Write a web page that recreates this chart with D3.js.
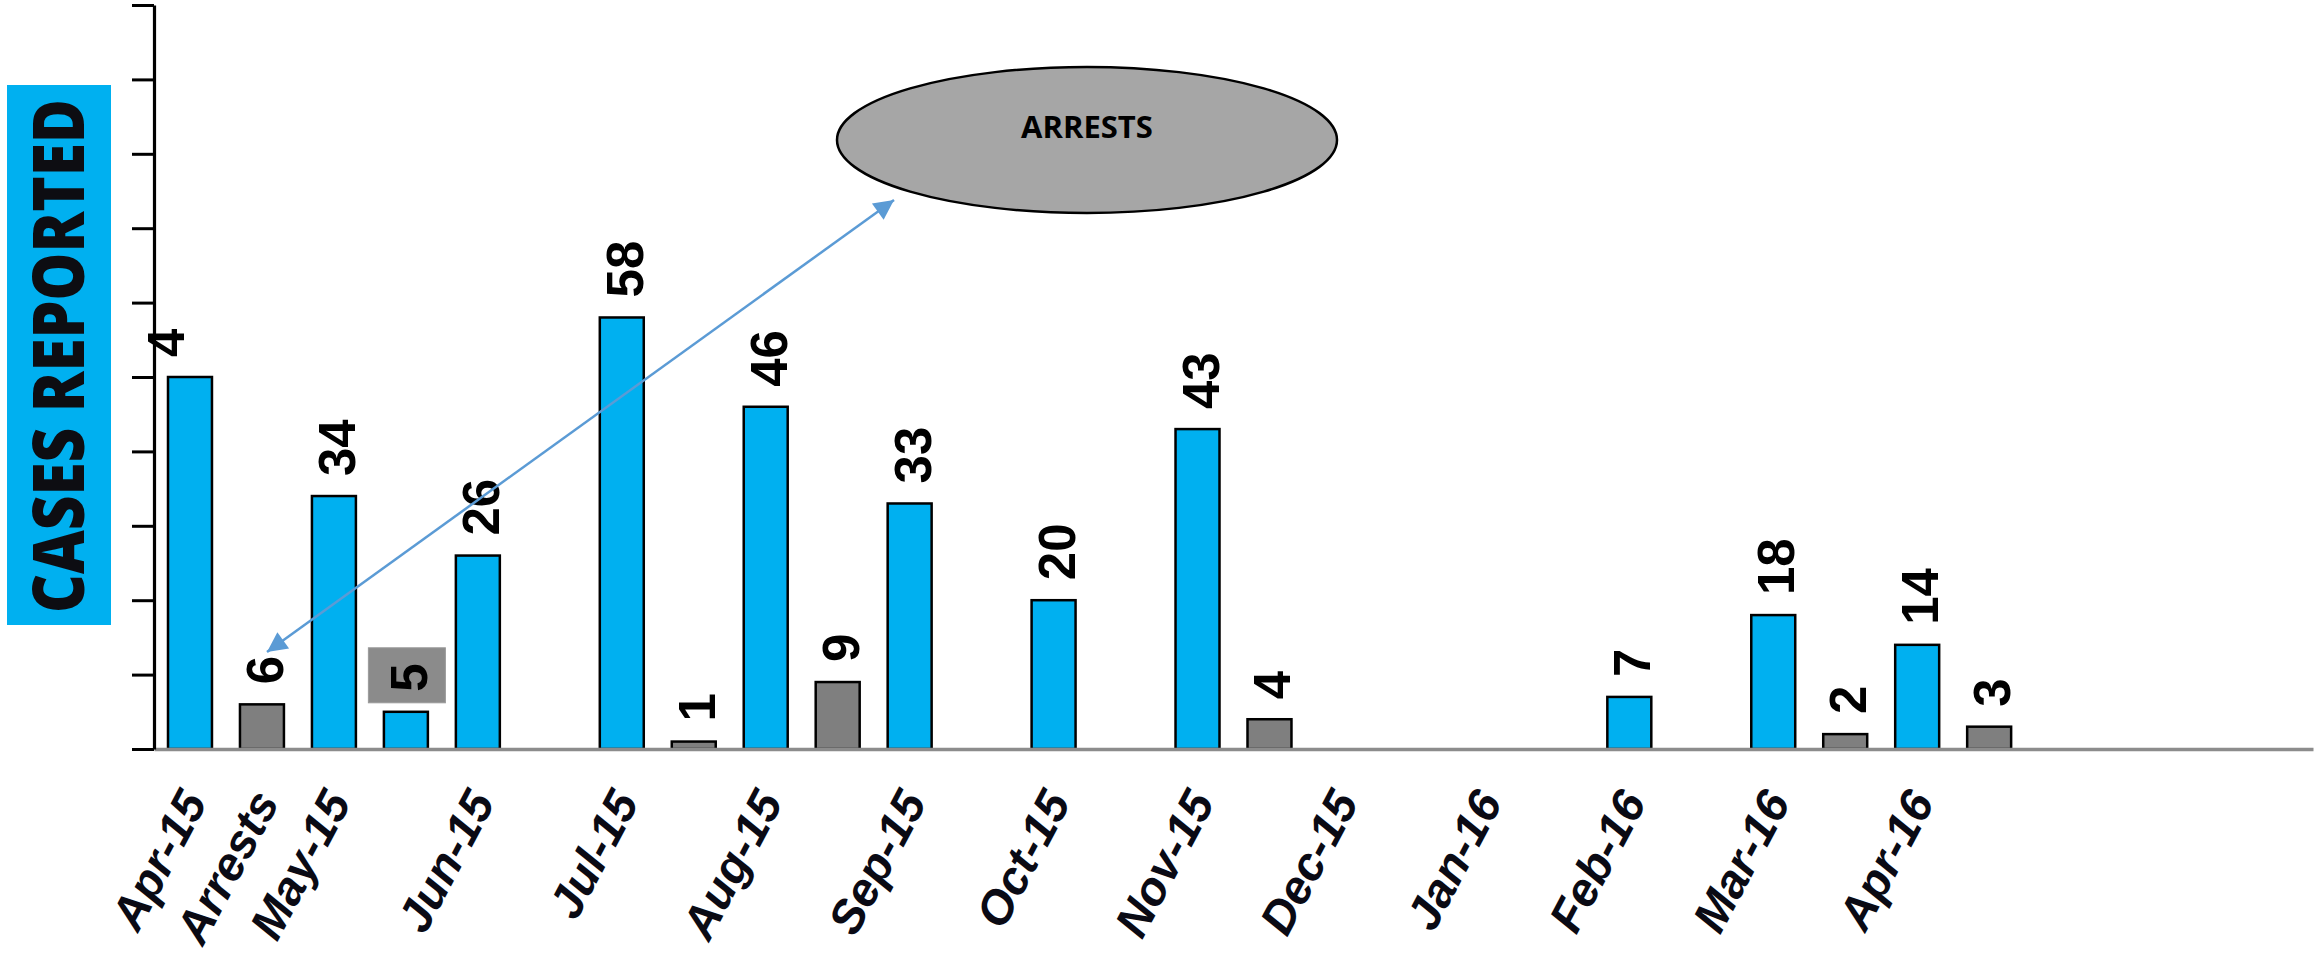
<!DOCTYPE html>
<html>
<head>
<meta charset="utf-8">
<script src="https://cdn.jsdelivr.net/npm/d3@7"></script>
<style>
  html, body { margin: 0; padding: 0; background: #fff; }
  svg { display: block; }
</style>
</head>
<body>
<svg id="chart" width="2323" height="958"></svg>
<script>
// ---------- data ----------
const slotLabels = ["Apr-15","Arrests","May-15","","Jun-15","","Jul-15","","Aug-15","","Sep-15","","Oct-15","","Nov-15","","Dec-15","","Jan-16","","Feb-16","","Mar-16","","Apr-16","","","","",""];
const casesValues = [50,null,34,5,26,null,58,null,46,null,33,null,20,null,43,null,null,null,null,null,7,null,18,null,14,null,null,null,null,null];
const arrestValues = [null,6,null,null,null,null,null,1,null,9,null,null,null,null,null,4,null,null,null,null,null,null,null,2,null,3,null,null,null,null];
const casesLabelText = ["4",null,"34","5","26",null,"58",null,"46",null,"33",null,"20",null,"43",null,null,null,null,null,"7",null,"18",null,"14",null,null,null,null,null];
const boxedLabelSlot = 3;
const yTicks = [0,10,20,30,40,50,60,70,80,90,100];
const yTitle = "CASES REPORTED";
const calloutText = "ARRESTS";

// ---------- layout ----------
const svg = d3.select("#chart");
const x0 = 154, x1 = 2313, yBase = 749, yTop = 5;
const slots = d3.range(slotLabels.length);
const x = d3.scaleBand().domain(slots).range([x0, x1]).paddingInner(0.389).paddingOuter(0.1945);
const y = d3.scaleLinear().domain([0, 100]).range([yBase, yTop]);

const BLUE = "#00B0F0", GREY = "#7f7f7f";

// y-axis title box
svg.append("rect").attr("x", 7).attr("y", 85).attr("width", 104).attr("height", 540).attr("fill", BLUE);
svg.append("text")
  .attr("transform", "translate(59,356) rotate(-90)")
  .attr("x", 0).attr("y", 25)
  .attr("text-anchor", "middle")
  .attr("font-family", "Open Sans")
  .attr("font-weight", 800)
  .attr("font-size", 70)
  .attr("textLength", 514)
  .attr("lengthAdjust", "spacingAndGlyphs")
  .attr("fill", "#0d0d12")
  .text(yTitle);

// bars
const cases = slots.filter(i => casesValues[i] != null).map(i => ({i, v: casesValues[i]}));
const arrests = slots.filter(i => arrestValues[i] != null).map(i => ({i, v: arrestValues[i]}));

svg.append("g").selectAll("rect").data(cases).join("rect")
  .attr("x", d => x(d.i)).attr("width", x.bandwidth())
  .attr("y", d => y(d.v)).attr("height", d => yBase - y(d.v))
  .attr("fill", BLUE).attr("stroke", "#000").attr("stroke-width", 2.5);

svg.append("g").selectAll("rect").data(arrests).join("rect")
  .attr("x", d => x(d.i)).attr("width", x.bandwidth())
  .attr("y", d => y(d.v)).attr("height", d => yBase - y(d.v))
  .attr("fill", GREY).attr("stroke", "#000").attr("stroke-width", 2.5);

// x axis line (grey)
const xAxis = svg.append("g").attr("transform", `translate(0,${yBase})`)
  .call(d3.axisBottom(x).tickSize(0).tickFormat(""));
xAxis.select(".domain").attr("stroke", "#8c8c8c").attr("stroke-width", 3.5);

// y axis
const yAxis = svg.append("g").attr("transform", `translate(${x0},0)`)
  .call(d3.axisLeft(y).tickValues(yTicks).tickSize(22).tickSizeOuter(0).tickFormat(""));
yAxis.select(".domain").attr("stroke", "#000").attr("stroke-width", 3.2);
yAxis.selectAll(".tick line").attr("stroke", "#000").attr("stroke-width", 3);

// x tick labels
svg.append("g").selectAll("text").data(slots.filter(i => slotLabels[i] !== "")).join("text")
  .attr("transform", i => `translate(${x(i) + x.bandwidth() / 2 + 18},802) rotate(-62)`)
  .attr("text-anchor", "end")
  .attr("font-family", "Liberation Sans, Arial")
  .attr("font-weight", "bold")
  .attr("font-style", "italic")
  .attr("font-size", 47)
  .attr("fill", "#0a0a14")
  .text(i => slotLabels[i]);

// data labels
function labelPos(i, v) {
  const dx = i === 0 ? -27 : 0;   // first label sits left, against the axis
  return `translate(${x(i) + x.bandwidth() / 2 + dx},${y(v) - 20}) rotate(-90)`;
}
// grey box behind boxed label
{
  const i = boxedLabelSlot, v = casesValues[i];
  const cx = x(i) + x.bandwidth() / 2;
  svg.append("rect").attr("x", cx - 37.5).attr("y", y(v) - 64).attr("width", 77).attr("height", 55)
    .attr("fill", "#8b8b8b").attr("stroke", "#9a9a9a").attr("stroke-width", 1);
}
const lblStyle = sel => sel
  .attr("x", 0).attr("y", 21)
  .attr("font-family", "Liberation Sans, Arial")
  .attr("font-weight", "bold")
  .attr("font-size", 51)
  .attr("fill", "#000");

svg.append("g").selectAll("text").data(cases.filter(d => casesLabelText[d.i] != null)).join("text")
  .attr("transform", d => labelPos(d.i, d.v))
  .call(lblStyle)
  .text(d => casesLabelText[d.i]);

svg.append("g").selectAll("text").data(arrests).join("text")
  .attr("transform", d => labelPos(d.i, d.v))
  .call(lblStyle)
  .text(d => d.v);

// callout ellipse
svg.append("ellipse").attr("cx", 1087).attr("cy", 140).attr("rx", 250).attr("ry", 73)
  .attr("fill", "#a6a6a6").attr("stroke", "#000").attr("stroke-width", 2.5);
svg.append("text").attr("x", 1087).attr("y", 138)
  .attr("text-anchor", "middle")
  .attr("font-family", "Open Sans")
  .attr("font-weight", 700)
  .attr("font-size", 31)
  .attr("fill", "#000")
  .text(calloutText);

// double-headed arrow
const defs = svg.append("defs");
["start", "end"].forEach(k => {
  defs.append("marker").attr("id", "ah-" + k)
    .attr("viewBox", "0 0 10 10").attr("refX", 10).attr("refY", 5)
    .attr("markerUnits", "userSpaceOnUse")
    .attr("markerWidth", 24).attr("markerHeight", 20)
    .attr("orient", k === "start" ? "auto-start-reverse" : "auto")
    .append("path").attr("d", "M0,0 L10,5 L0,10 Z").attr("fill", "#5B9BD5");
});
svg.append("line").attr("x1", 267).attr("y1", 652).attr("x2", 894).attr("y2", 200)
  .attr("stroke", "#5B9BD5").attr("stroke-width", 2.5)
  .attr("marker-start", "url(#ah-start)").attr("marker-end", "url(#ah-end)");
</script>
</body>
</html>
